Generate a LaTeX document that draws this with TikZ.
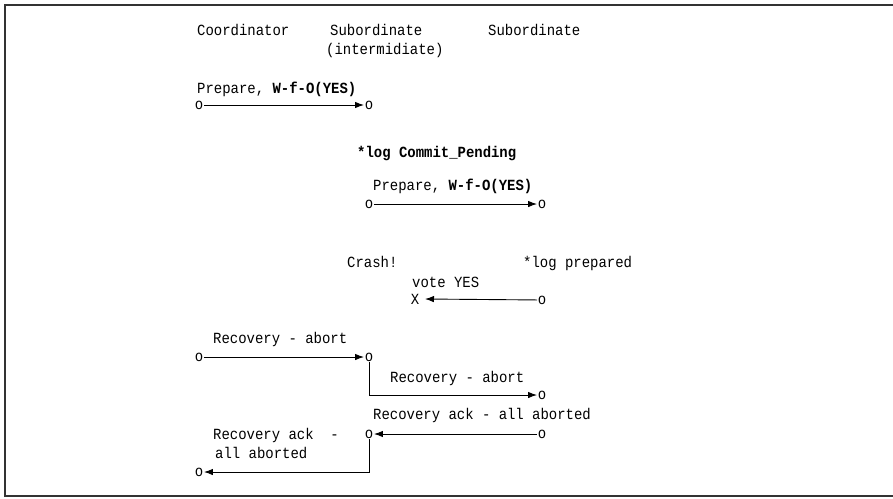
\documentclass[tikz,border=0pt]{standalone}
\usepackage{fontspec}
\setmonofont[FakeStretch=0.9]{Liberation Mono}
\usetikzlibrary{arrows.meta}
\begin{document}
\begin{tikzpicture}[x=1pt,y=-1pt,
  lbl/.style={anchor=base west, inner sep=0pt, font=\ttfamily\fontsize{15.5}{18}\selectfont},
  pt/.style={inner sep=0.6pt, font=\ttfamily\fontsize{15.5}{18}\selectfont},
  msg/.style={line width=0.9pt, -{Latex[length=9pt,width=6.5pt]}},
  frame/.style={line width=1.6pt, draw=black!80}]
\useasboundingbox (0,0) rectangle (893,498);
% open frame (right side runs off the page)
\draw[frame] (893,5) -- (5,5) -- (5,496) -- (893,496);

% column headings
\node[lbl] (hc) at (197,35) {Coordinator};
\node[lbl] (hs1) at (330,35) {Subordinate};
\node[lbl] (hs1b) at (326,54) {(intermidiate)};
\node[lbl] (hs2) at (488,35) {Subordinate};

% event points
\node[pt] (l1) at (199,105) {o};
\node[pt] (m1) at (369,105) {o};
\node[pt] (m2) at (369,204) {o};
\node[pt] (r2) at (542,204) {o};
\node[pt] (r3) at (542,300) {o};
\node[pt] (x3) at (415,299) {X};
\node[pt] (l3) at (199,357) {o};
\node[pt] (m3) at (369,357) {o};
\node[pt] (r5) at (542,395) {o};
\node[pt] (r6) at (542,434) {o};
\node[pt] (m4) at (369,434) {o};
\node[pt] (l4) at (199,472) {o};

% labels
\node[lbl] (t1) at (197,93) {Prepare, \textbf{W-f-O(YES)}};
\node[lbl] (t2) at (357,157) {\textbf{*log Commit\_Pending}};
\node[lbl] (t3) at (373,190) {Prepare, \textbf{W-f-O(YES)}};
\node[lbl] (t4) at (347,267) {Crash!};
\node[lbl] (t5) at (523,267) {*log prepared};
\node[lbl] (t6) at (412,287) {vote YES};
\node[lbl] (t7) at (213,343) {Recovery - abort};
\node[lbl] (t8) at (390,382) {Recovery - abort};
\node[lbl] (t9) at (373,419) {Recovery ack - all aborted};
\node[lbl] (t10) at (213,439) {Recovery ack\ \ -};
\node[lbl] (t11) at (215,458) {all aborted};

% messages
\draw[msg] (l1) -- (m1);
\draw[msg] (m2) -- (r2);
\draw[msg] (r3) -- ([xshift=5pt]x3.east);
\draw[msg] (l3) -- (m3);
\draw[msg] (m3.south) |- (r5);
\draw[msg] (r6) -- (m4);
\draw[msg] (m4.south) |- (l4);
\end{tikzpicture}
\end{document}
